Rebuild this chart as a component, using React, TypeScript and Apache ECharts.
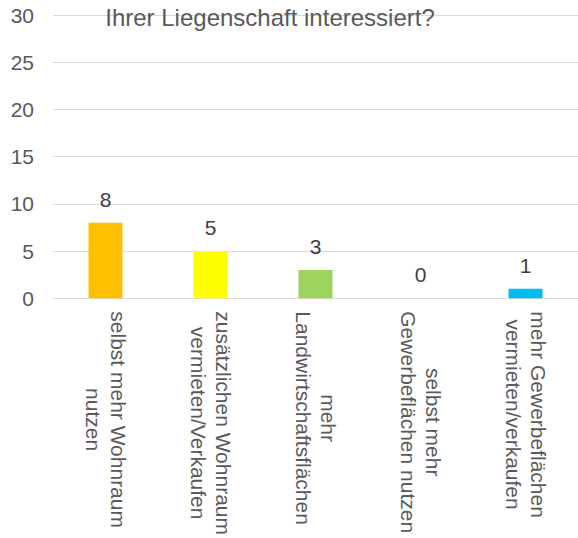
import React, { useEffect, useRef } from "react";
import * as echarts from "echarts";

const titleLines = ["Sind Sie an einer zusätzlichen Nutzung", "Ihrer Liegenschaft interessiert?"];
const categories = [
  ["selbst mehr Wohnraum", "nutzen"],
  ["zusätzlichen Wohnraum", "vermieten/Verkaufen"],
  ["mehr", "Landwirtschaftsflächen"],
  ["selbst mehr", "Gewerbeflächen nutzen"],
  ["mehr Gewerbeflächen", "vermieten/verkaufen"],
];
const values = [8, 5, 3, 0, 1];
const barColors = ["#FFC000", "#FFFF00", "#9ED35E", "#00B0F0", "#00BCF2"];
const colorIndex = [0, 1, 2, 3, 4];

export default function App() {
  const ref = useRef<HTMLDivElement>(null);
  useEffect(() => {
    document.body.style.margin = "0";
    if (!ref.current) return;
    const chart = echarts.init(ref.current, null, { renderer: "svg" });
    const font = "'Liberation Sans', Arial, sans-serif";
    chart.setOption({
      animation: false,
      textStyle: { fontFamily: font },
      title: {
        text: titleLines.join("\n"),
        left: 270,
        top: -31,
        padding: 0,
        textAlign: "center",
        textStyle: { fontSize: 24, lineHeight: 32, color: "#595959", fontWeight: "normal", fontFamily: font },
      },
      grid: { left: 53, top: 15, width: 527, height: 284, containLabel: false },
      xAxis: {
        type: "category",
        data: categories.map((c) => c.join("\n")),
        axisLine: { show: true, lineStyle: { color: "#d9d9d9", width: 1 } },
        axisTick: { show: false },
        axisLabel: {
          interval: 0,
          rotate: -90,
          margin: 13,
          formatter: (v: string) => v.split("\n").map((s) => `{c|${s}}`).join("\n"),
          rich: {
            c: { align: "center", fontSize: 21, lineHeight: 25, color: "#595959", fontFamily: font },
          },
        },
      },
      yAxis: {
        type: "value",
        min: 0,
        max: 30,
        interval: 5,
        axisLine: { show: false },
        axisTick: { show: false },
        splitLine: { lineStyle: { color: "#d9d9d9", width: 1 } },
        axisLabel: { fontSize: 21, color: "#595959", margin: 19, fontFamily: font },
      },
      series: [
        {
          type: "bar",
          barWidth: 34,
          data: values.map((v, i) => ({ value: v, itemStyle: { color: barColors[colorIndex[i]] } })),
          label: {
            show: true,
            position: "top",
            distance: 13,
            fontSize: 21,
            color: "#404040",
            fontFamily: font,
          },
        },
      ],
    });
    return () => chart.dispose();
  }, []);
  return <div ref={ref} style={{ width: 578, height: 538 }} />;
}
